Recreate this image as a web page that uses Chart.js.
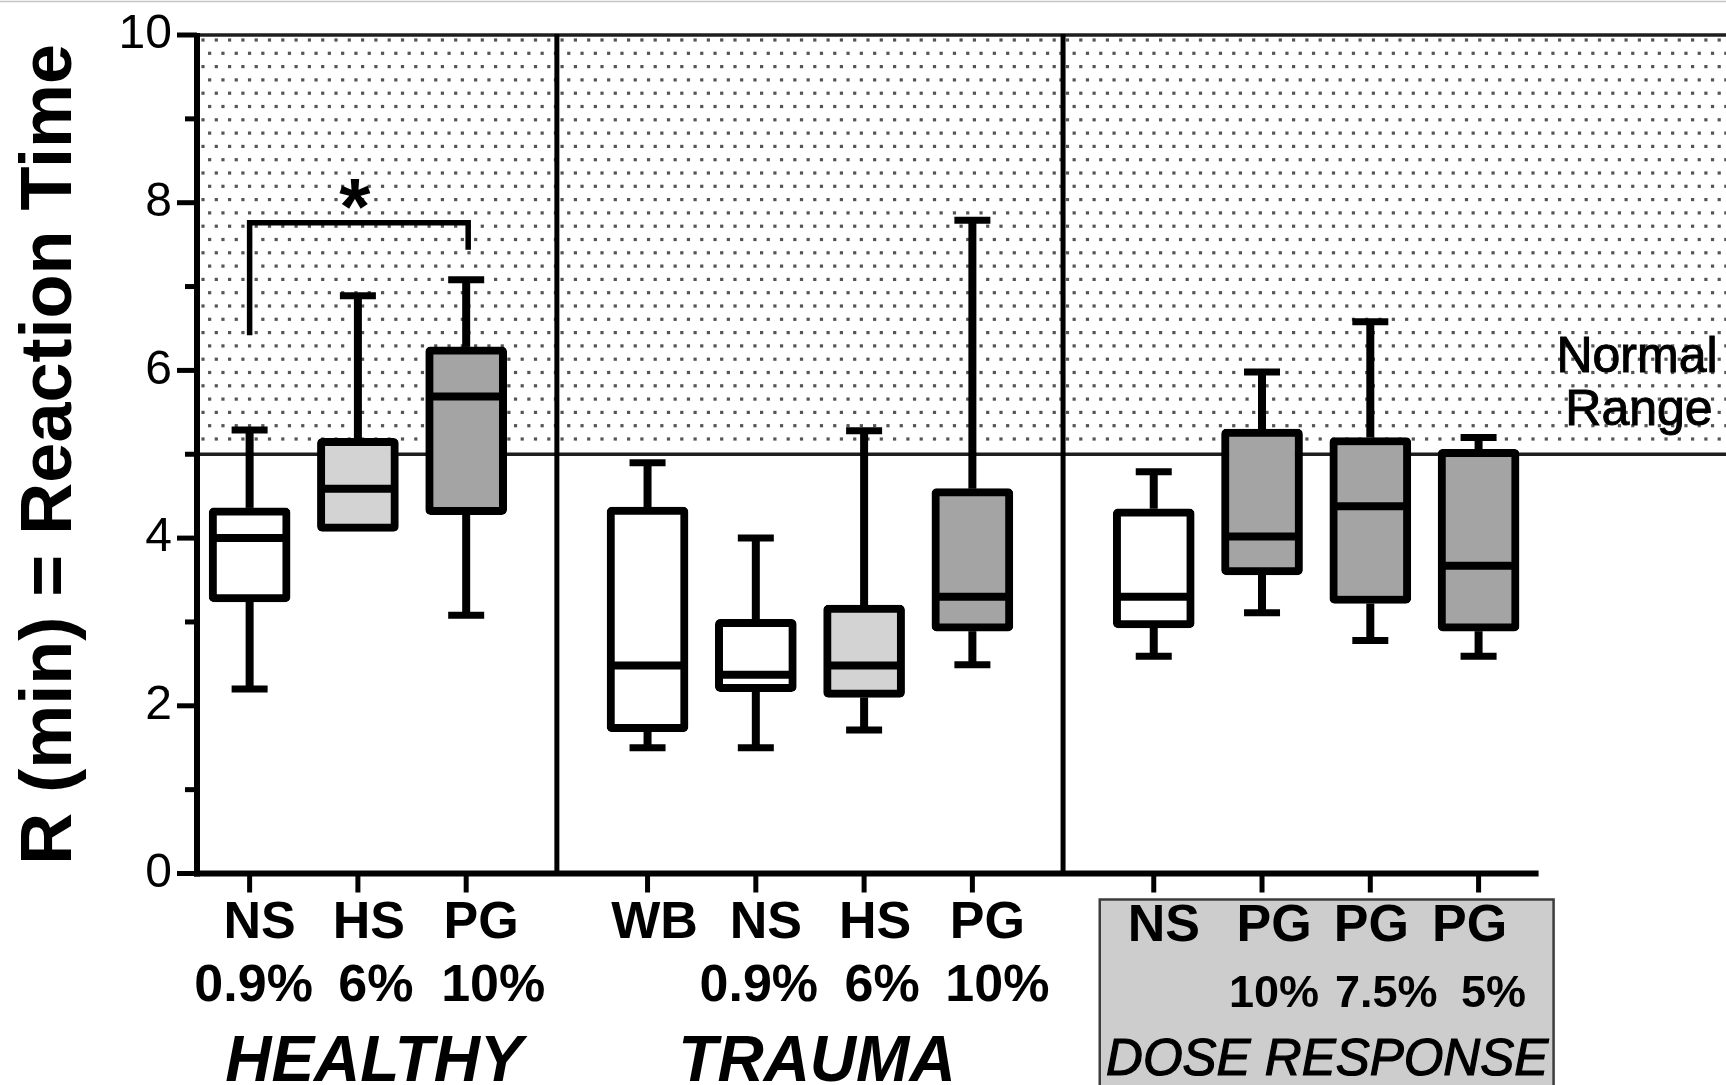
<!DOCTYPE html>
<html>
<head>
<meta charset="utf-8">
<script src="https://cdn.jsdelivr.net/npm/chart.js@4/dist/chart.umd.min.js"></script>
<style>
html,body{margin:0;padding:0;background:#fff;}
#wrap{width:1726px;height:1085px;position:relative;background:#fff;}
</style>
</head>
<body>
<div id="wrap"><canvas id="c" width="1726" height="1085"></canvas></div>
<script>
// ---------------- data ----------------
const groupNames = ['HEALTHY', 'TRAUMA', 'DOSE RESPONSE'];
const groupSizes = [3, 4, 4];
const labelTop    = ['NS', 'HS', 'PG', 'WB', 'NS', 'HS', 'PG', 'NS', 'PG', 'PG', 'PG'];
const labelBottom = ['0.9%', '6%', '10%', '', '0.9%', '6%', '10%', '', '10%', '7.5%', '5%'];
const whiskerLow  = [2.20, 4.10, 3.08, 1.50, 1.50, 1.71, 2.49, 2.59, 3.11, 2.78, 2.59];
const quartile1   = [3.24, 4.08, 4.28, 1.69, 2.17, 2.10, 2.89, 2.93, 3.56, 3.22, 2.89];
const medians     = [4.00, 4.59, 5.69, 2.48, 2.37, 2.48, 3.30, 3.30, 4.02, 4.38, 3.67];
const quartile3   = [4.36, 5.19, 6.28, 4.37, 3.03, 3.20, 4.59, 4.35, 5.30, 5.20, 5.06];
const whiskerHigh = [5.29, 6.89, 7.08, 4.90, 4.00, 5.28, 7.79, 4.79, 5.98, 6.58, 5.20];
const yTickValues = [0, 1, 2, 3, 4, 5, 6, 7, 8, 9, 10];
const normalRange = [5, 10];
const normalRangeLabel = ['Normal', 'Range'];
const sigPair = [0, 2];          // compared boxes (indices)
const sigLegEnds = [6.42, 7.44]; // lower ends of bracket legs
const sigBarValue = 7.76;
const sigStarValue = 8.2;
const sigLabel = '*';
const yTitle = 'R (min) = Reaction Time';

// ---------------- styles / layout ----------------
const FONT = "'Liberation Sans', Arial, Helvetica, sans-serif";
const WHITE = '#ffffff', LIGHT = '#d3d3d3', DARK = '#a4a4a4';
const boxFills = [WHITE, LIGHT, DARK, WHITE, WHITE, LIGHT, DARK, WHITE, DARK, DARK, DARK];
const GROUP_STEP = 1.675;
const X_MIN = -0.486, X_MAX = 13.635;
const LW = 8;
const labelNudgeTop = [10, 11, 15, 7, 10, 11, 15, 10, 12, 1, -9];
const labelNudgeBottom = [4, 18, 27, 0, 3, 18, 25, 0, 12, 16, 15];
const groupNudge = [16, 7, 11];

// category positions from group structure
const xPos = [];
const groupStart = [];
(function(){
  let s = 0;
  groupSizes.forEach(n => {
    groupStart.push(xPos.length);
    for (let i = 0; i < n; i++) xPos.push(s + i);
    s += n - 1 + GROUP_STEP;
  });
})();

function seg(ctx, x1, y1, x2, y2, w, c, cap) {
  ctx.beginPath();
  ctx.lineWidth = w;
  ctx.strokeStyle = c || '#000';
  ctx.lineCap = cap || 'butt';
  ctx.moveTo(x1, y1);
  ctx.lineTo(x2, y2);
  ctx.stroke();
}

const decor = {
  id: 'decor',
  beforeDatasetsDraw(chart) {
    const {ctx, chartArea: a, scales: {x, y}} = chart;
    ctx.save();
    const yTop = y.getPixelForValue(normalRange[1]);
    const yBot = y.getPixelForValue(normalRange[0]);
    // dotted normal range
    ctx.fillStyle = '#555555';
    let row = 0;
    for (let yy = yTop + 5; yy < yBot - 3; yy += 13.3, row++) {
      for (let xx = a.left + 6 + (row % 2 ? 6.65 : 0); xx < a.right; xx += 13.3) {
        ctx.fillRect(xx - 1.6, yy - 1.6, 3.2, 3.2);
      }
    }
    seg(ctx, a.left, yBot, a.right, yBot, 3.5, '#1e1e1e');
    seg(ctx, a.left, yTop, a.right, yTop, 3.5, '#1e1e1e');
    // group separators
    for (let g = 1; g < groupSizes.length; g++) {
      const xs = x.getPixelForValue((xPos[groupStart[g] - 1] + xPos[groupStart[g]]) / 2);
      seg(ctx, xs, yTop - 1, xs, a.bottom, 5, '#000');
    }
    // whiskers + caps
    xPos.forEach((v, i) => {
      const px = x.getPixelForValue(v);
      const hi = y.getPixelForValue(whiskerHigh[i]);
      const lo = y.getPixelForValue(whiskerLow[i]);
      const q1 = y.getPixelForValue(quartile1[i]);
      const q3 = y.getPixelForValue(quartile3[i]);
      if (whiskerHigh[i] > quartile3[i]) {
        seg(ctx, px, hi, px, q3, LW);
        seg(ctx, px - 18, hi, px + 18, hi, 7);
      }
      if (whiskerLow[i] < quartile1[i]) {
        seg(ctx, px, q1, px, lo, LW);
        seg(ctx, px - 18, lo, px + 18, lo, 7);
      }
    });
    ctx.restore();
  },
  afterDatasetsDraw(chart) {
    const {ctx, chartArea: a, scales: {x, y}} = chart;
    ctx.save();
    // medians
    xPos.forEach((v, i) => {
      const px = x.getPixelForValue(v);
      const m = y.getPixelForValue(medians[i]);
      seg(ctx, px - 36, m, px + 36, m, LW);
    });
    // axes
    const xEnd = x.getPixelForValue(xPos[xPos.length - 1]) + 60;
    seg(ctx, a.left, a.top - 2, a.left, a.bottom + 3, 6);
    seg(ctx, a.left - 3, a.bottom, xEnd, a.bottom, 6);
    yTickValues.forEach(v => {
      const py = y.getPixelForValue(v);
      const len = v % 2 === 0 ? 20 : 12;
      seg(ctx, a.left - len, py, a.left, py, 5);
    });
    xPos.forEach(v => {
      const px = x.getPixelForValue(v);
      seg(ctx, px, a.bottom, px, a.bottom + 19, 5);
    });
    // significance bracket
    const bx1 = x.getPixelForValue(xPos[sigPair[0]]);
    const bx2 = x.getPixelForValue(xPos[sigPair[1]]) + 2;
    const bTop = y.getPixelForValue(sigBarValue);
    ctx.beginPath();
    ctx.lineWidth = 5.5; ctx.strokeStyle = '#000'; ctx.lineJoin = 'miter'; ctx.lineCap = 'butt';
    ctx.moveTo(bx1, y.getPixelForValue(sigLegEnds[0]));
    ctx.lineTo(bx1, bTop);
    ctx.lineTo(bx2, bTop);
    ctx.lineTo(bx2, y.getPixelForValue(sigLegEnds[1]));
    ctx.stroke();
    ctx.fillStyle = '#000';
    ctx.font = `bold 80px ${FONT}`;
    ctx.textAlign = 'center';
    ctx.textBaseline = 'alphabetic';
    ctx.fillText(sigLabel, (bx1 + bx2) / 2 - 4, y.getPixelForValue(sigStarValue) + 48);
    // Normal range label
    ctx.font = `50px ${FONT}`;
    ctx.lineWidth = 1; ctx.strokeStyle = '#000';
    ctx.fillText(normalRangeLabel[0], a.right - 89, y.getPixelForValue(5.98));
    ctx.strokeText(normalRangeLabel[0], a.right - 89, y.getPixelForValue(5.98));
    ctx.fillText(normalRangeLabel[1], a.right - 87, y.getPixelForValue(5.35));
    ctx.strokeText(normalRangeLabel[1], a.right - 87, y.getPixelForValue(5.35));
    // dose response label box
    const dg = groupStart[2];
    const dLeft = x.getPixelForValue(xPos[dg]) - 54;
    const dRight = x.getPixelForValue(xPos[xPos.length - 1]) + 75;
    ctx.fillStyle = '#cdcdcd';
    ctx.fillRect(dLeft, 899.5, dRight - dLeft, 200);
    ctx.lineWidth = 2.5; ctx.strokeStyle = '#3c3c3c';
    ctx.strokeRect(dLeft, 899.5, dRight - dLeft, 200);
    // category labels
    ctx.fillStyle = '#000';
    ctx.textBaseline = 'middle';
    xPos.forEach((v, i) => {
      const px = x.getPixelForValue(v);
      const isDose = i >= dg;
      ctx.font = `bold 52px ${FONT}`;
      ctx.fillText(labelTop[i], px + labelNudgeTop[i], isDose ? 927 : 924);
      if (labelBottom[i]) {
        ctx.font = isDose ? `bold 45px ${FONT}` : `bold 52px ${FONT}`;
        ctx.fillText(labelBottom[i], px + labelNudgeBottom[i], isDose ? 995 : 987);
      }
    });
    // group names
    ctx.textBaseline = 'alphabetic';
    groupNames.forEach((name, g) => {
      const first = groupStart[g];
      const last = first + groupSizes[g] - 1;
      const cx = (x.getPixelForValue(xPos[first]) + x.getPixelForValue(xPos[last])) / 2 + groupNudge[g];
      if (g === 2) {
        ctx.font = `italic 51px ${FONT}`;
        ctx.lineWidth = 1.2; ctx.strokeStyle = '#000';
        ctx.fillText(name, cx, 1075);
        ctx.strokeText(name, cx, 1075);
      } else {
        ctx.font = `italic bold 64px ${FONT}`;
        ctx.fillText(name, cx, 1081);
      }
    });
    ctx.restore();
  },
  afterDraw(chart) {
    const ctx = chart.ctx;
    ctx.save();
    seg(ctx, 0, 1.5, chart.width, 1.5, 1.5, '#c4c4c4');
    ctx.restore();
  }
};

new Chart(document.getElementById('c'), {
  type: 'bar',
  data: {
    datasets: [{
      data: xPos.map((v, i) => ({x: v, y: [quartile1[i], quartile3[i]]})),
      backgroundColor: boxFills,
      borderColor: '#000',
      borderWidth: LW,
      borderSkipped: false,
      borderRadius: 5,
      barThickness: 81
    }]
  },
  options: {
    responsive: false,
    animation: false,
    events: [],
    layout: {padding: {top: 35, left: 0, right: 0, bottom: 0}},
    plugins: {legend: {display: false}, tooltip: {enabled: false}},
    scales: {
      x: {
        type: 'linear',
        min: X_MIN,
        max: X_MAX,
        offset: false,
        grid: {display: false},
        border: {display: false},
        ticks: {display: false},
        afterFit: s => { s.height = 211.5; }
      },
      y: {
        type: 'linear',
        min: 0,
        max: 10,
        afterBuildTicks: s => { s.ticks = yTickValues.map(v => ({value: v})); },
        ticks: {
          autoSkip: false,
          padding: 5,
          color: '#000',
          font: {family: FONT, size: 48},
          callback: v => (v % 2 === 0 ? String(v) : '')
        },
        grid: {drawOnChartArea: false, tickLength: 20, tickColor: 'rgba(0,0,0,0)'},
        border: {display: false},
        title: {
          display: true,
          text: yTitle,
          color: '#000',
          font: {family: FONT, size: 72, weight: 'bold'},
          padding: {top: 8, bottom: 0}
        },
        afterFit: s => { s.width = 197; }
      }
    }
  },
  plugins: [decor]
});
</script>
</body>
</html>
